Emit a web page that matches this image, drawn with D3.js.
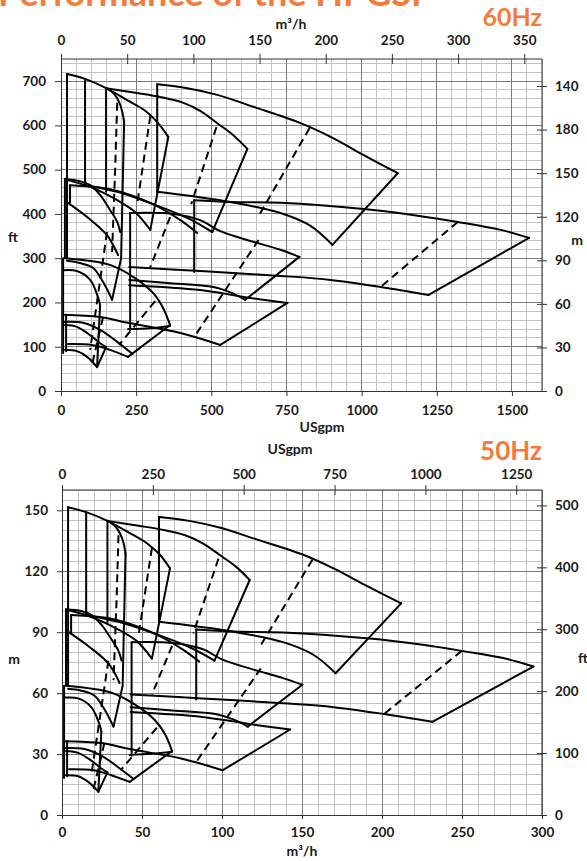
<!DOCTYPE html>
<html>
<head>
<meta charset="utf-8">
<script src="https://cdn.jsdelivr.net/npm/d3@7"></script>
<style>
body { margin: 0; background: #fff; }
svg { display: block; }
text { font-family: Lato, "Open Sans", "DejaVu Sans", sans-serif; font-weight: 700; }
</style>
</head>
<body>
<svg id="chart" width="587" height="861"></svg>
<script>
// unit conversions for the secondary axes
const gpmPerM3h = 4.4029;
const ftPerM = 3.2808;

// ---- 60 Hz, points are [USgpm, ft] ----
const topA60 = [[20,716],[80,705],[150,684],[220,657],[280,633],[323,605],[357,574]];
const topB60 = [[150,684],[253,673],[330,664],[407,651],[463,633],[520,605],[573,578],[620,547]];
const topC60 = [[320,693],[420,684],[520,669],[640,642],[797,605],[897,574],[1007,533],[1120,492]];
const hook60 = [[150,684],[177,671],[193,653],[203,633],[210,608]];
const botA60 = [[20,477],[97,461],[187,431],[247,404],[297,364]];
const botB60 = [[80,465],[187,450],[287,427],[420,391],[503,359]];
const botC60 = [[320,450],[563,427],[730,402],[830,373],[903,330]];
const lowA60 = [[23,425],[87,393],[153,352],[190,307]];
const m1Top60 = [[13,479],[63,474],[97,465],[130,443],[163,409],[187,382],[197,359]];
const m1Bot60 = [[20,294],[63,289],[107,278],[140,246],[170,206]];
const m2Top60 = [[30,465],[163,456],[297,425],[397,386],[453,357]];
const p4Top60 = [[443,431],[563,427],[730,425],[1007,411],[1197,395],[1320,382],[1463,364],[1557,346]];
const p4Bot60 = [[227,280],[463,271],[730,260],[897,251],[1063,235],[1223,217]];
const l0Top60 = [[230,402],[373,400],[463,386],[530,361],[630,339],[730,319],[793,303]];
const l0Bot60 = [[227,251],[353,244],[507,235],[570,221],[613,206]];
const l2Top60 = [[227,239],[463,228],[613,212],[753,199]];
const r1Top60 = [[13,300],[163,285],[240,258],[307,221],[340,187],[363,149]];
const r1Dia60 = [[223,140],[297,142],[363,147]];
const tTop60 = [[7,273],[53,271],[97,251],[123,212],[130,194]];
const low170_60 = [[7,172],[130,167],[223,154],[397,131],[530,104]];
const lowB60 = [[7,156],[73,154],[130,138],[187,111],[237,84]];
const lowC60 = [[13,149],[53,145],[97,126],[130,108],[150,99]];
const tBot60 = [[13,93],[53,90],[87,77],[120,54]];
const lowD60 = [[23,106],[103,104],[163,93],[223,77]];

const minFlow60 = [
  [[20,716],[20,300]], [[80,705],[80,465]], [[150,684],[150,450]], [[320,693],[320,450]],
  [[13,479],[13,300]], [[30,465],[30,425]], [[443,431],[443,269]], [[230,402],[230,138]],
  [[7,300],[7,86]], [[17,172],[17,90]]
];
const maxFlow60 = [
  [[357,574],[297,364]], [[620,547],[503,359]], [[1120,492],[903,330]],
  [[210,608],[200,300],[170,206]], [[1557,346],[1223,217]], [[793,303],[613,206]],
  [[753,199],[530,104]], [[363,149],[223,77]], [[130,194],[120,54]], [[150,99],[120,54]]
];
const bep60 = [
  [[187,651],[180,499],[170,314]], [[297,621],[253,420]], [[517,596],[433,422]],
  [[827,594],[657,395]], [[1320,382],[1063,235]], [[657,341],[447,126]],
  [[363,393],[297,280]], [[313,203],[193,104]], [[153,359],[97,93]], [[140,167],[103,59]]
];

// ---- 50 Hz, points are [m3/h, m] ----
const topA50 = [[3.8,151.5],[15.1,149.1],[28.4,144.8],[41.6,139.1],[53,133.8],[61.2,128.1],[67.5,121.4]];
const topB50 = [[28.4,144.8],[47.9,142.4],[62.5,140.5],[77,137.7],[87.7,133.8],[98.4,128.1],[108.5,122.4],[117.3,115.7]];
const topC50 = [[60.6,146.7],[79.5,144.8],[98.4,141.5],[121.1,135.8],[150.8,128.1],[169.7,121.4],[190.5,112.8],[212,104.2]];
const hook50 = [[28.4,144.8],[33.4,142],[36.6,138.1],[38.5,133.8],[39.7,128.6]];
const botA50 = [[3.8,100.9],[18.3,97.5],[35.3,91.3],[46.7,85.6],[56.2,77]];
const botB50 = [[15.1,98.5],[35.3,95.1],[54.3,90.3],[79.5,82.7],[95.3,76]];
const botC50 = [[60.6,95.1],[106.6,90.3],[138.2,85.1],[157.1,78.9],[171,69.8]];
const lowA50 = [[4.4,89.9],[16.4,83.2],[29,74.6],[36,65]];
const m1Top50 = [[2.5,101.3],[12,100.4],[18.3,98.5],[24.6,93.7],[30.9,86.5],[35.3,80.8],[37.2,76]];
const m1Bot50 = [[3.8,62.1],[12,61.2],[20.2,58.8],[26.5,52.1],[32.2,43.5]];
const m2Top50 = [[5.7,98.5],[30.9,96.6],[56.2,89.9],[75.1,81.7],[85.8,75.5]];
const p4Top50 = [[83.9,91.3],[106.6,90.3],[138.2,89.9],[190.5,87],[226.5,83.7],[249.8,80.8],[277,77],[294.6,73.1]];
const p4Bot50 = [[42.9,59.3],[87.7,57.4],[138.2,55],[169.7,53.1],[201.3,49.7],[231.5,45.9]];
const l0Top50 = [[43.5,85.1],[70.7,84.6],[87.7,81.7],[100.3,76.5],[119.2,71.7],[138.2,67.4],[150.2,64.1]];
const l0Bot50 = [[42.9,53.1],[66.9,51.6],[95.9,49.7],[107.9,46.8],[116.1,43.5]];
const l2Top50 = [[42.9,50.7],[87.7,48.3],[116.1,44.9],[142.6,42.1]];
const r1Top50 = [[2.5,63.6],[30.9,60.2],[45.4,54.5],[58,46.8],[64.4,39.7],[68.8,31.5]];
const r1Dia50 = [[42.3,29.6],[56.2,30.1],[68.8,31.1]];
const tTop50 = [[1.3,57.8],[10.1,57.4],[18.3,53.1],[23.3,44.9],[24.6,41.1]];
const low170_50 = [[1.3,36.3],[24.6,35.4],[42.3,32.5],[75.1,27.7],[100.3,22]];
const lowB50 = [[1.3,33],[13.9,32.5],[24.6,29.2],[35.3,23.4],[44.8,17.7]];
const lowC50 = [[2.5,31.5],[10.1,30.6],[18.3,26.8],[24.6,22.9],[28.4,21]];
const tBot50 = [[2.5,19.6],[10.1,19.1],[16.4,16.3],[22.7,11.5]];
const lowD50 = [[4.4,22.5],[19.6,22],[30.9,19.6],[42.3,16.3]];

const minFlow50 = [
  [[3.8,151.5],[3.8,63.6]], [[15.1,149.1],[15.1,98.5]], [[28.4,144.8],[28.4,95.1]], [[60.6,146.7],[60.6,95.1]],
  [[2.5,101.3],[2.5,63.6]], [[5.7,98.5],[5.7,89.9]], [[83.9,91.3],[83.9,56.9]], [[43.5,85.1],[43.5,29.2]],
  [[1.3,63.6],[1.3,18.2]], [[3.2,36.3],[3.2,19.1]]
];
const maxFlow50 = [
  [[67.5,121.4],[56.2,77]], [[117.3,115.7],[95.3,76]], [[212,104.2],[171,69.8]],
  [[39.7,128.6],[37.9,63.6],[32.2,43.5]], [[294.6,73.1],[231.5,45.9]], [[150.2,64.1],[116.1,43.5]],
  [[142.6,42.1],[100.3,22]], [[68.8,31.5],[42.3,16.3]], [[24.6,41.1],[22.7,11.5]], [[28.4,21],[22.7,11.5]]
];
const bep50 = [
  [[35.3,137.7],[34.1,105.6],[32.2,66.4]], [[56.2,131.5],[47.9,88.9]], [[97.8,126.2],[82,89.4]],
  [[156.5,125.7],[124.3,83.7]], [[249.8,80.8],[201.3,49.7]], [[124.3,72.2],[84.5,26.8]],
  [[68.8,83.2],[56.2,59.3]], [[59.3,43],[36.6,22]], [[29,76],[18.3,19.6]], [[26.5,35.4],[19.6,12.4]]
];

const curves60 = [topA60, topB60, topC60, hook60, botA60, botB60, botC60, lowA60, m1Top60, m1Bot60, m2Top60,
  p4Top60, p4Bot60, l0Top60, l0Bot60, l2Top60, r1Top60, r1Dia60, tTop60, low170_60, lowB60, lowC60, tBot60, lowD60];
const curves50 = [topA50, topB50, topC50, hook50, botA50, botB50, botC50, lowA50, m1Top50, m1Bot50, m2Top50,
  p4Top50, p4Bot50, l0Top50, l0Bot50, l2Top50, r1Top50, r1Dia50, tTop50, low170_50, lowB50, lowC50, tBot50, lowD50];

// ---- ticks ----
const gpmTicks60 = [0, 250, 500, 750, 1000, 1250, 1500];
const m3hTicks60 = [0, 50, 100, 150, 200, 250, 300, 350];
const ftTicks60 = [0, 100, 200, 300, 400, 500, 600, 700];
const mTicks60 = [0, 30, 60, 90, 120, 150, 180, 210];
const mTickLabels60 = ["0", "30", "60", "90", "120", "150", "180", "140"];
const m3hTicks50 = [0, 50, 100, 150, 200, 250, 300];
const gpmTicks50 = [0, 250, 500, 750, 1000, 1250];
const mTicks50 = [0, 30, 60, 90, 120, 150];
const ftTicks50 = [0, 100, 200, 300, 400, 500];

const svg = d3.select("#chart");
const orange = "#f47b3b";
const minorGrid = "#c4c4c4", majorGrid = "#7c7c7c", axisColor = "#333";
const plain = d3.format("d");

function isMultiple(v, step) {
  const r = v / step;
  return Math.abs(r - Math.round(r)) < 1e-6;
}

function drawPanel(o) {
  const g = svg.append("g");
  const [xl, xr] = o.x.range();
  const [yb, yt] = o.y.range();

  // gridlines
  const vx = d3.range(0, o.x.domain()[1] + 1e-9, o.xMinor);
  const hy = d3.range(0, o.y.domain()[1] + 1e-9, o.yMinor);
  [false, true].forEach(major => {
    const col = major ? majorGrid : minorGrid;
    g.append("g").selectAll("line")
      .data(vx.filter(v => isMultiple(v, o.xMajor) === major))
      .join("line")
      .attr("x1", d => o.x(d)).attr("x2", d => o.x(d))
      .attr("y1", yb).attr("y2", yt)
      .attr("stroke", col).attr("stroke-width", 1).attr("shape-rendering", "crispEdges");
    g.append("g").selectAll("line")
      .data(hy.filter(v => isMultiple(v, o.yMajor) === major))
      .join("line")
      .attr("y1", d => o.y(d)).attr("y2", d => o.y(d))
      .attr("x1", xl).attr("x2", xr)
      .attr("stroke", col).attr("stroke-width", 1).attr("shape-rendering", "crispEdges");
  });

  // pump curves
  const smooth = d3.line().x(d => o.x(d[0])).y(d => o.y(d[1])).curve(d3.curveCatmullRom.alpha(0.5));
  const straight = d3.line().x(d => o.x(d[0])).y(d => o.y(d[1]));
  const cg = g.append("g").attr("fill", "none").attr("stroke", "#000")
    .attr("stroke-linejoin", "round").attr("stroke-linecap", "round");
  cg.selectAll("path.c").data(o.curves).join("path").attr("class", "c")
    .attr("d", smooth).attr("stroke-width", 2);
  cg.selectAll("path.e").data(o.edges).join("path").attr("class", "e")
    .attr("d", straight).attr("stroke-width", 2);
  cg.selectAll("path.b").data(o.bep).join("path").attr("class", "b")
    .attr("d", straight).attr("stroke-width", 2)
    .attr("stroke-linecap", "butt").attr("stroke-dasharray", "8,5");

  // axes
  const style = a => a.attr("font-size", 13.5).attr("color", axisColor)
    .call(s => s.selectAll("text").attr("fill", "#1a1a1a"));

  g.append("g").attr("transform", `translate(${xl},0)`)
    .call(d3.axisLeft(o.y).tickValues(o.yTicks).tickFormat(plain)
      .tickSize(o.leftSize).tickPadding(o.leftPad).tickSizeOuter(0))
    .call(style);

  g.append("g").attr("transform", `translate(0,${yb})`)
    .call(d3.axisBottom(o.x).tickValues(o.xTicks).tickFormat(plain)
      .tickSize(o.bottomSize).tickPadding(o.bottomPad).tickSizeOuter(0))
    .call(style);

  g.append("g").attr("transform", `translate(0,${yt})`)
    .call(d3.axisTop(o.x2).tickValues(o.x2Ticks).tickFormat(plain)
      .tickSize(5).tickPadding(o.topPad).tickSizeOuter(0))
    .call(style)
    .call(a => a.selectAll(".tick line").attr("y1", 5))
    .call(a => a.select(".domain").attr("d", `M${xl},0H${xr}`));

  const right = d3.axisRight(o.y2).tickValues(o.y2Ticks).tickSize(5).tickPadding(8).tickSizeOuter(0)
    .tickFormat(o.y2Labels ? (d, i) => o.y2Labels[i] : plain);
  g.append("g").attr("transform", `translate(${xr},0)`)
    .call(right)
    .call(style)
    .call(a => a.selectAll(".tick line").attr("x1", -5))
    .call(a => a.select(".domain").attr("d", `M0,${yb}V${yt}`));

  // axis titles
  o.titles.forEach(t => {
    g.append("text").attr("x", t.x).attr("y", t.y)
      .attr("text-anchor", "middle").attr("font-size", 14).attr("fill", "#1a1a1a")
      .text(t.text);
  });
}

// 60 Hz panel
drawPanel({
  x: d3.scaleLinear([0, 1600], [61, 542]),
  x2: d3.scaleLinear([0, 1600 / gpmPerM3h], [61, 542]),
  y: d3.scaleLinear([0, 750], [391, 59]),
  y2: d3.scaleLinear([0, 750 / ftPerM], [391, 59]),
  xMinor: 50, xMajor: 250, yMinor: 20, yMajor: 100,
  xTicks: gpmTicks60, x2Ticks: m3hTicks60, yTicks: ftTicks60, y2Ticks: mTicks60, y2Labels: mTickLabels60,
  leftSize: 6, leftPad: 9, bottomSize: 5, bottomPad: 9, topPad: 9,
  curves: curves60, edges: minFlow60.concat(maxFlow60), bep: bep60,
  titles: [
    { text: "m³/h", x: 291, y: 29 },
    { text: "ft", x: 13, y: 242 },
    { text: "m", x: 577, y: 245 },
    { text: "USgpm", x: 322, y: 432 }
  ]
});

// 50 Hz panel
drawPanel({
  x: d3.scaleLinear([0, 300], [62, 542]),
  x2: d3.scaleLinear([0, 300 * gpmPerM3h], [62, 542]),
  y: d3.scaleLinear([0, 160], [815, 490]),
  y2: d3.scaleLinear([0, 160 * ftPerM], [815, 490]),
  xMinor: 10, xMajor: 50, yMinor: 5, yMajor: 30,
  xTicks: m3hTicks50, x2Ticks: gpmTicks50, yTicks: mTicks50, y2Ticks: ftTicks50,
  leftSize: 5, leftPad: 9, bottomSize: 4, bottomPad: 8, topPad: 6,
  curves: curves50, edges: minFlow50.concat(maxFlow50), bep: bep50,
  titles: [
    { text: "USgpm", x: 290, y: 454 },
    { text: "m", x: 14, y: 664 },
    { text: "ft", x: 583, y: 663 },
    { text: "m³/h", x: 302, y: 856 }
  ]
});

// headings
svg.append("text").attr("x", -2).attr("y", 6).attr("font-size", 36).attr("fill", orange)
  .text("Performance of the HPGSP");
svg.append("text").attr("x", 542).attr("y", 26).attr("text-anchor", "end")
  .attr("font-size", 25).attr("fill", orange).text("60Hz");
svg.append("text").attr("x", 542).attr("y", 460).attr("text-anchor", "end")
  .attr("font-size", 26).attr("fill", orange).text("50Hz");
</script>
</body>
</html>
